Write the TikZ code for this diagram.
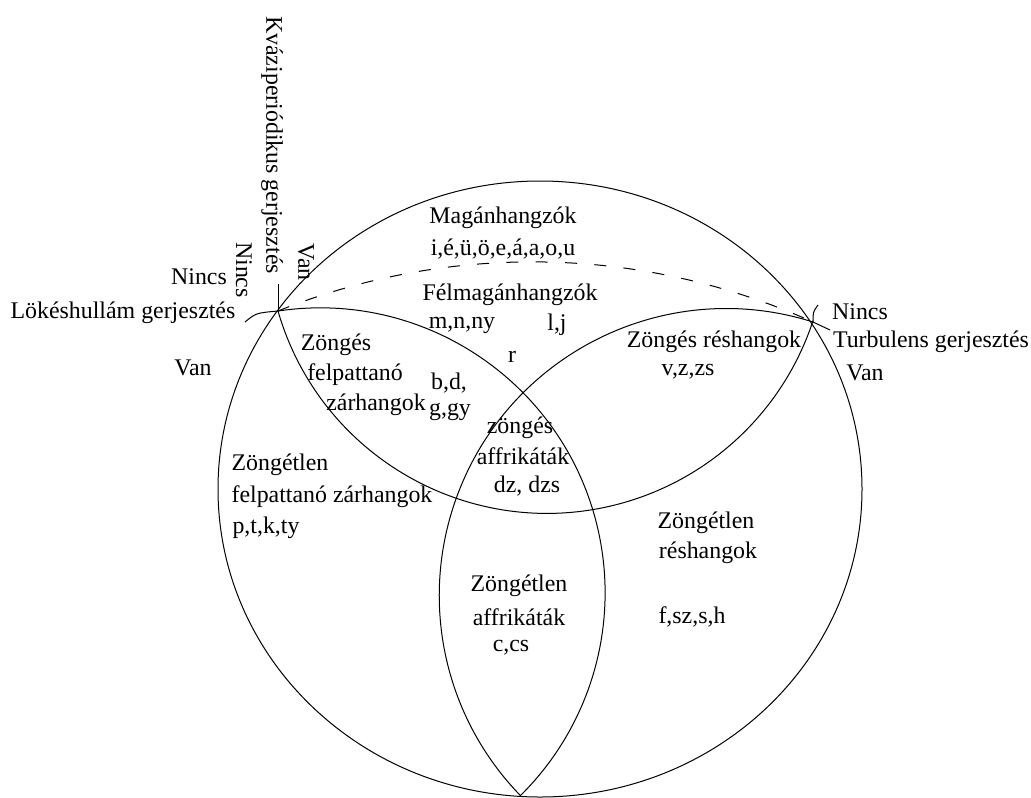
\documentclass[tikz,border=0pt]{standalone}
\usepackage{fontspec}
\setmainfont{Liberation Serif}
\begin{document}
\begin{tikzpicture}[x=0.75pt,y=-0.75pt,
  lbl/.style={inner sep=0pt,font=\fontsize{17.9}{20}\selectfont},
  line/.style={line width=0.75pt,black},
  dsh/.style={line width=0.75pt,dash pattern=on 9pt off 13pt}]
\useasboundingbox (0,0) rectangle (1031,797);
% key points
\coordinate (L) at (278,311);
\coordinate (R) at (813,322);
\coordinate (B) at (520,796);
\coordinate (Kt) at (278,284);
\coordinate (Lk) at (245,322);
\coordinate (Rt) at (818,305);
\coordinate (Rk) at (830,330);
% big ellipse
\draw[line] (540,489) ellipse[x radius=322, y radius=308];
% three arcs
\draw[line] (L) arc[start angle=163.9, end angle=18.2, radius=280];
\draw[line] (L) arc[start angle=-98.5, end angle=45.4, radius=285];
\draw[line] (R) arc[start angle=-72.4, end angle=-224.2, radius=287];
% dashed arc
\draw[dsh] (L) arc[start angle=-111.85, end angle=-65.8, radius=684];
% axis marks
\draw[line] (L) -- (Kt);
\draw[line] (Lk) .. controls (256,313) .. (L);
\draw[line] (R) .. controls (813,312) .. (Rt);
\draw[line] (R) -- (Rk);
% labels
\node[lbl,rotate=-90] (kv) at (272,145) {Kváziperiódikus gerjesztés};
\node[lbl,rotate=-90] (kvn) at (244,270) {Nincs};
\node[lbl,rotate=-90] (kvv) at (306,262) {Van};
\node[lbl] (lkn) at (199,277) {Nincs};
\node[lbl] (lk) at (123,313) {Lökéshullám gerjesztés};
\node[lbl] (lkv) at (193,368) {Van};
\node[lbl] (tn) at (860,312) {Nincs};
\node[lbl] (tb) at (931,342) {Turbulens gerjesztés};
\node[lbl] (tv) at (865,373) {Van};
\node[lbl] (mag) at (503,218) {Magánhangzók};
\node[lbl] (magl) at (503,249) {i,é,ü,ö,e,á,a,o,u};
\node[lbl] (fel) at (510,295) {Félmagánhangzók};
\node[lbl] (fel1) at (462,325) {m,n,ny};
\node[lbl] (fel2) at (557,325) {l,j};
\node[lbl] (fel3) at (512,357) {r};
\node[lbl] (zr) at (714,342) {Zöngés réshangok};
\node[lbl] (zrl) at (688,372) {v,z,zs};
\node[lbl] (zf1) at (336,345) {Zöngés};
\node[lbl] (zf2) at (355,375) {felpattanó};
\node[lbl] (zf3) at (376,405) {zárhangok};
\node[lbl] (zfl1) at (449,383) {b,d,};
\node[lbl] (zfl2) at (450,412) {g,gy};
\node[lbl] (za1) at (520,428) {zöngés};
\node[lbl] (za2) at (523,456) {affrikáták};
\node[lbl] (za3) at (527,486) {dz, dzs};
\node[lbl] (zt1) at (280,465) {Zöngétlen};
\node[lbl] (zt2) at (332,497) {felpattanó zárhangok};
\node[lbl] (zt3) at (266,528) {p,t,k,ty};
\node[lbl] (ta1) at (519,586) {Zöngétlen};
\node[lbl] (ta2) at (519,617) {affrikáták};
\node[lbl] (ta3) at (511,648) {c,cs};
\node[lbl] (tr1) at (706,523) {Zöngétlen};
\node[lbl] (tr2) at (708,553) {réshangok};
\node[lbl] (tr3) at (692,617) {f,sz,s,h};
\end{tikzpicture}
\end{document}
